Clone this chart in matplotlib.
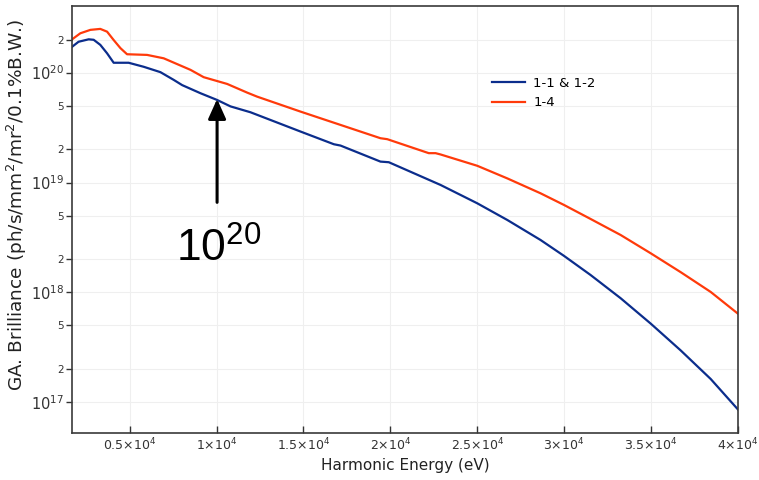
import matplotlib
matplotlib.use('Agg')
import matplotlib.pyplot as plt
from matplotlib.ticker import FixedLocator, FixedFormatter, LogFormatterMathtext

# photon energy (eV) and brilliance
energy_blue = [1690, 2060, 2640, 2930, 3310, 3700, 4080, 4940, 5810, 6770, 7530, 8020,
               9070, 10030, 10800, 11950, 14830, 16750, 17130, 19430, 19910, 22890, 25000,
               26730, 28640, 29990, 31520, 33250, 34980, 36700, 38430, 40000]
bril_blue = [1.72e20, 1.91e20, 2.01e20, 1.99e20, 1.79e20, 1.50e20, 1.23e20, 1.23e20, 1.13e20,
             1.01e20, 8.6e19, 7.7e19, 6.5e19, 5.64e19, 4.93e19, 4.36e19, 2.91e19, 2.23e19,
             2.17e19, 1.55e19, 1.53e19, 9.5e18, 6.47e18, 4.56e18, 3.0e18, 2.15e18, 1.44e18,
             8.85e17, 5.2e17, 2.97e17, 1.63e17, 8.6e16]

energy_red = [1690, 2160, 2740, 3310, 3700, 4080, 4470, 4850, 6000, 6960, 8500, 9260,
              10610, 11760, 12330, 14830, 19430, 19820, 22210, 22600, 22890, 25000, 26730,
              28640, 29990, 31520, 33250, 34980, 36700, 38430, 40000]
bril_red = [2.01e20, 2.28e20, 2.45e20, 2.5e20, 2.36e20, 1.98e20, 1.67e20, 1.47e20, 1.45e20,
            1.35e20, 1.06e20, 9.09e19, 7.89e19, 6.58e19, 6.05e19, 4.42e19, 2.53e19, 2.48e19,
            1.85e19, 1.85e19, 1.8e19, 1.42e19, 1.09e19, 7.98e18, 6.25e18, 4.66e18, 3.33e18,
            2.27e18, 1.53e18, 1.01e18, 6.4e17]

labels = ['1-1 & 1-2', '1-4']

xtick_vals = [5000, 10000, 15000, 20000, 25000, 30000, 35000, 40000]
xtick_labels = [r'$0.5{\times}10^{4}$', r'$1{\times}10^{4}$', r'$1.5{\times}10^{4}$',
                r'$2{\times}10^{4}$', r'$2.5{\times}10^{4}$', r'$3{\times}10^{4}$',
                r'$3.5{\times}10^{4}$', r'$4{\times}10^{4}$']
ytick_major = [1e17, 1e18, 1e19, 1e20]
ytick_minor = [2e16, 5e16, 2e17, 5e17, 2e18, 5e18, 2e19, 5e19, 2e20, 5e20]
ytick_minor_labels = ['2', '5'] * 5

plt.rcParams['font.family'] = 'DejaVu Sans'
plt.rcParams['mathtext.fontset'] = 'custom'
plt.rcParams['mathtext.rm'] = 'Liberation Sans'

fig = plt.figure(figsize=(7.59, 4.80), dpi=100)
ax = fig.add_axes([0.0949, 0.098, 0.8774, 0.8895])

ax.plot(energy_blue, bril_blue, color='#0b2d8c', lw=1.6, label=labels[0])
ax.plot(energy_red, bril_red, color='#ff3a0a', lw=1.6, label=labels[1])

ax.set_yscale('log')
ax.set_xlim(1684, 40000)
ax.set_ylim(5.26e16, 4.04e20)

ax.xaxis.set_major_locator(FixedLocator(xtick_vals))
ax.xaxis.set_major_formatter(FixedFormatter(xtick_labels))
ax.yaxis.set_major_locator(FixedLocator(ytick_major))
ax.yaxis.set_major_formatter(LogFormatterMathtext())
ax.yaxis.set_minor_locator(FixedLocator(ytick_minor))
ax.yaxis.set_minor_formatter(FixedFormatter(ytick_minor_labels))

for lab in ax.get_xticklabels():
    lab.set_math_fontfamily('dejavusans')
for lab in ax.get_yticklabels():
    lab.set_math_fontfamily('dejavusans')

ax.tick_params(axis='x', direction='in', length=5, width=1, labelsize=9, colors='#333333', pad=3)
ax.tick_params(axis='y', which='major', direction='out', length=4, width=1, labelsize=10.5,
               colors='#333333', pad=2)
ax.tick_params(axis='y', which='minor', direction='out', length=4, width=1, labelsize=7.5,
               colors='#333333', pad=2)

ax.grid(True, which='major', color='#efefef', lw=0.8)
ax.grid(True, which='minor', axis='y', color='#efefef', lw=0.8)
for s in ax.spines.values():
    s.set_color('#3a3a3a')
    s.set_linewidth(1.2)

ax.set_xlabel('Harmonic Energy (eV)', fontsize=11, color='#222222', labelpad=3)
ax.set_ylabel('GA. Brilliance (ph/s/mm$^2$/mr$^2$/0.1%B.W.)', fontsize=13.3,
              color='#222222')
ax.yaxis.label.set_math_fontfamily('dejavusans')
ax.yaxis.set_label_coords(-0.064, 0.534)

ax.legend(loc='upper left', bbox_to_anchor=(0.631, 0.834), frameon=False, fontsize=9.5,
          handlelength=2.5, handletextpad=0.6, borderpad=0, borderaxespad=0, labelspacing=0.5)

ax.annotate('', xy=(10030, 5.75e19), xytext=(10030, 6.6e18),
            arrowprops=dict(arrowstyle='-|>,head_length=0.6,head_width=0.27', color='black',
                            lw=2.2, mutation_scale=20, shrinkA=0, shrinkB=0))
ax.text(10130, 1.9e18, r'$10^{20}$', fontsize=32, ha='center', va='baseline', color='black')

fig.savefig('out.png', dpi=100)
